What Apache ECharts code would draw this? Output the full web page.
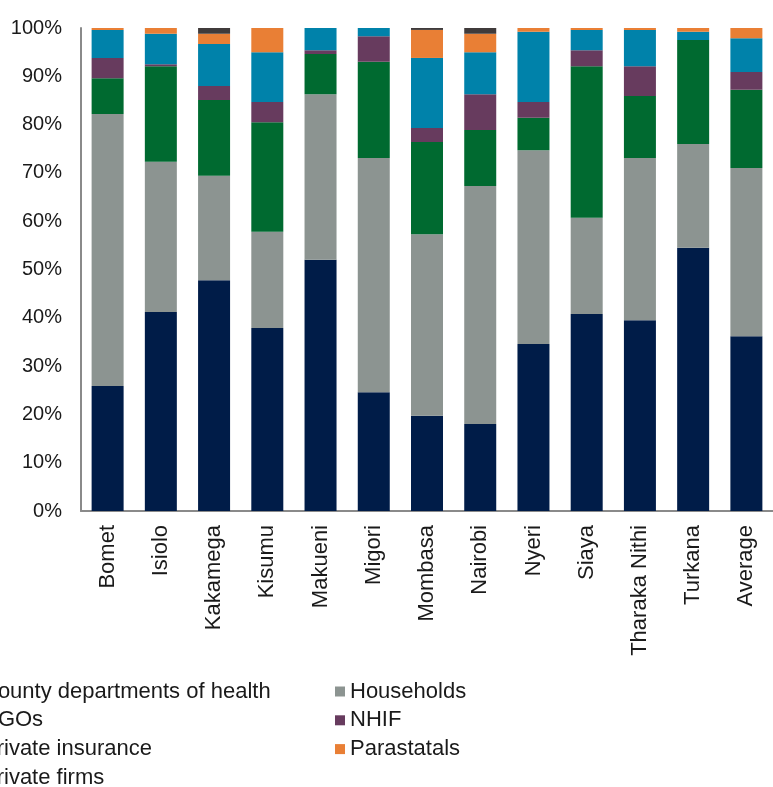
<!DOCTYPE html>
<html>
<head>
<meta charset="utf-8">
<script src="https://cdn.jsdelivr.net/npm/echarts@6/dist/echarts.min.js"></script>
<style>
html,body{margin:0;padding:0;background:#fff;}
#chart{width:773px;height:787px;}
</style>
</head>
<body>
<div id="chart"></div>
<script>
const categories = ['Bomet','Isiolo','Kakamega','Kisumu','Makueni','Migori','Mombasa','Nairobi','Nyeri','Siaya','Tharaka Nithi','Turkana','Average'];
const countyHealth     = [25.9, 41.2, 47.8, 37.9, 52.0, 24.6, 19.7, 18.0, 34.6, 40.8, 39.5, 54.5, 36.2];
const households       = [56.3, 31.1, 21.6, 19.9, 34.3, 48.5, 37.6, 49.3, 40.1, 19.9, 33.6, 21.5, 34.8];
const ngos             = [7.4, 19.8, 15.7, 22.7, 8.3, 19.9, 19.1, 11.6, 6.7, 31.4, 12.8, 21.5, 16.2];
const nhif             = [4.2, 0.4, 2.9, 4.2, 0.8, 5.3, 2.9, 7.4, 3.3, 3.3, 6.2, 0, 3.7];
const privateInsurance = [5.8, 6.3, 8.7, 10.3, 4.6, 1.7, 14.5, 8.7, 14.5, 4.2, 7.5, 1.7, 7.0];
const parastatals      = [0.4, 1.2, 2.1, 5.0, 0, 0, 5.8, 3.8, 0.8, 0.4, 0.4, 0.8, 2.1];
const privateFirms     = [0, 0, 1.2, 0, 0, 0, 0.4, 1.2, 0, 0, 0, 0, 0];
const yTicks = [0, 10, 20, 30, 40, 50, 60, 70, 80, 90, 100];

const seriesDefs = [
  {name:'County departments of health', data: countyHealth, color:'#001C48'},
  {name:'Households', data: households, color:'#8C9491'},
  {name:'NGOs', data: ngos, color:'#006A30'},
  {name:'NHIF', data: nhif, color:'#673B5E'},
  {name:'Private insurance', data: privateInsurance, color:'#0082AA'},
  {name:'Parastatals', data: parastatals, color:'#E97F35'},
  {name:'Private firms', data: privateFirms, color:'#403B3B'}
];

const FONT = '"Liberation Sans", Arial, sans-serif';
const chart = echarts.init(document.getElementById('chart'), null, {renderer:'canvas'});
const legendText = {fontFamily: FONT, fontSize: 22, lineHeight: 22, color: '#1a1a1a'};
chart.setOption({
  animation: false,
  backgroundColor: '#ffffff',
  grid: {left: 81, top: 28, width: 702, height: 483, containLabel: false},
  legend: [
    {
      orient: 'vertical', left: -33, top: 680.5, height: 200, width: 400, padding: 0,
      itemWidth: 10, itemHeight: 10, itemGap: 6.8,
      icon: 'rect', textStyle: legendText,
      data: ['County departments of health','NGOs','Private insurance','Private firms']
    },
    {
      orient: 'vertical', left: 335, top: 680.5, height: 200, width: 300, padding: 0,
      itemWidth: 10, itemHeight: 10, itemGap: 6.8,
      icon: 'rect', textStyle: legendText,
      data: ['Households','NHIF','Parastatals']
    }
  ],
  xAxis: {
    type: 'category',
    data: categories,
    axisLine: {show: true, lineStyle: {color: '#8a8a8a', width: 2}},
    axisTick: {show: false},
    axisLabel: {rotate: 90, margin: 14, fontFamily: FONT, fontSize: 22, color: '#1a1a1a', interval: 0}
  },
  yAxis: {
    type: 'value',
    min: yTicks[0], max: yTicks[yTicks.length-1], interval: 10,
    axisLine: {show: true, lineStyle: {color: '#8a8a8a', width: 2}},
    axisTick: {show: false},
    splitLine: {show: false},
    axisLabel: {margin: 19, fontFamily: FONT, fontSize: 20, color: '#1a1a1a', formatter: v => v + '%'}
  },
  series: seriesDefs.map(s => ({
    name: s.name, type: 'bar', stack: 'total', data: s.data,
    barWidth: 32, itemStyle: {color: s.color}
  }))
});
</script>
</body>
</html>
